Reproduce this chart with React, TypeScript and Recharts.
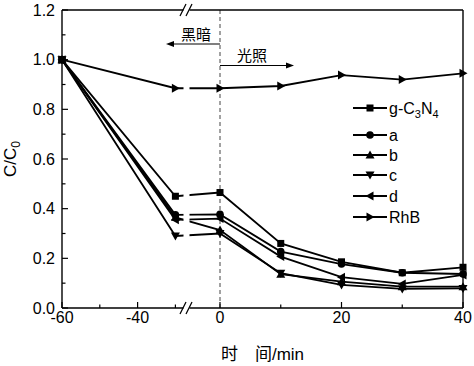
import React from 'react';
import { LineChart, Line, XAxis, YAxis, ReferenceLine } from 'recharts';

// time (min) and C/C0
const times = [-60, -30, 0, 10, 20, 30, 40];
const gC3N4 = [1.0, 0.45, 0.465, 0.26, 0.186, 0.142, 0.164];
const sampleA = [1.0, 0.375, 0.377, 0.227, 0.177, 0.142, 0.137];
const sampleB = [1.0, 0.365, 0.314, 0.136, 0.106, 0.086, 0.086];
const sampleC = [1.0, 0.29, 0.3, 0.14, 0.093, 0.077, 0.079];
const sampleD = [1.0, 0.355, 0.36, 0.207, 0.124, 0.097, 0.133];
const rhb = [1.0, 0.885, 0.885, 0.894, 0.938, 0.92, 0.945];

const seriesKeys = ['g', 'a', 'b', 'c', 'd', 'rhb'];
const seriesNames = ['g-C3N4', 'a', 'b', 'c', 'd', 'RhB'];
const seriesShapes = ['square', 'circle', 'up', 'down', 'left', 'right'];

const xMajor = [-60, -40, 0, 20, 40];
const xMinor = [-50, -30, 10, 30];
const yMajor = [0, 0.2, 0.4, 0.6, 0.8, 1.0, 1.2];
const yMinor = [0.1, 0.3, 0.5, 0.7, 0.9, 1.1];

const FONT = 'Arial, "Liberation Sans", sans-serif';
const CJK = '"Noto Sans CJK SC", sans-serif';

// broken time axis: -60..-30 compressed, 0..40 stretched
const LEFT_K = 3.78;
const RIGHT_K = 6.075;
const RIGHT_0 = 158;
const pos = (t: number) => (t <= -30 ? (t + 60) * LEFT_K : RIGHT_0 + t * RIGHT_K);
const unpos = (u: number) => Math.round(u <= 30 * LEFT_K + 1 ? u / LEFT_K - 60 : (u - RIGHT_0) / RIGHT_K);

const data = times.map((t, i) => ({
  x: pos(t),
  g: gC3N4[i],
  a: sampleA[i],
  b: sampleB[i],
  c: sampleC[i],
  d: sampleD[i],
  rhb: rhb[i],
}));

const xTicks = [...xMajor, ...xMinor].sort((p, q) => p - q).map(pos);
const yTicks = [...yMajor, ...yMinor].sort((p, q) => p - q);

function Marker({ cx, cy, shape }: { cx: number; cy: number; shape: string }) {
  if (cx == null || cy == null) return null;
  const s = 4.5;
  switch (shape) {
    case 'square':
      return <rect x={cx - 3.5} y={cy - 3.5} width={7} height={7} fill="#000" />;
    case 'circle':
      return <circle cx={cx} cy={cy} r={3.8} fill="#000" />;
    case 'up':
      return <polygon points={`${cx},${cy - s} ${cx - s},${cy + 3.5} ${cx + s},${cy + 3.5}`} fill="#000" />;
    case 'down':
      return <polygon points={`${cx},${cy + s} ${cx - s},${cy - 3.5} ${cx + s},${cy - 3.5}`} fill="#000" />;
    case 'left':
      return <polygon points={`${cx - s},${cy} ${cx + 3.5},${cy - s} ${cx + 3.5},${cy + s}`} fill="#000" />;
    default:
      return <polygon points={`${cx + s},${cy} ${cx - 3.5},${cy - s} ${cx - 3.5},${cy + s}`} fill="#000" />;
  }
}

function XTick(props: any) {
  const { x, y, payload } = props;
  const t = unpos(payload.value);
  const major = xMajor.includes(t);
  return (
    <g>
      <line x1={x} x2={x} y1={y} y2={y - (major ? 6 : 3.5)} stroke="#000" strokeWidth={1.2} />
      {major && (
        <text x={x} y={y + 15} textAnchor="middle" fontSize={16} fontFamily={FONT} fill="#000">
          {t}
        </text>
      )}
    </g>
  );
}

function YTick(props: any) {
  const { x, y, payload } = props;
  const v = payload.value;
  const major = yMajor.some((m) => Math.abs(m - v) < 1e-6);
  return (
    <g>
      <line x1={x} x2={x + (major ? 6 : 3.5)} y1={y} y2={y} stroke="#000" strokeWidth={1.2} />
      {major && (
        <text x={x - 7} y={y + 5.5} textAnchor="end" fontSize={16} fontFamily={FONT} fill="#000">
          {v.toFixed(1)}
        </text>
      )}
    </g>
  );
}

function LegendBox() {
  const rows = [11, 38, 58, 78, 99, 120];
  return (
    <g transform="translate(350 97)">
      {seriesShapes.map((shape, i) => (
        <g key={i}>
          <line x1={3} x2={37} y1={rows[i]} y2={rows[i]} stroke="#000" strokeWidth={1.8} />
          <Marker cx={20} cy={rows[i]} shape={shape} />
          <text x={39} y={rows[i] + 6} fontSize={16} fontFamily={FONT} fill="#000">
            {i === 0 ? (
              <>
                g-C<tspan dy={4} fontSize={11}>3</tspan>
                <tspan dy={-4}>N</tspan>
                <tspan dy={4} fontSize={11}>4</tspan>
              </>
            ) : (
              seriesNames[i]
            )}
          </text>
        </g>
      ))}
    </g>
  );
}

const L = 62;
const R = 463;
const T = 10;
const B = 308;

export default function App() {
  return (
    <div style={{ position: 'absolute', left: 0, top: 0, width: 474, height: 366, background: '#fff' }}>
      <LineChart width={474} height={366} data={data} margin={{ top: T, right: 474 - R, bottom: 0, left: 0 }}>
        <XAxis
          dataKey="x"
          type="number"
          domain={[0, R - L]}
          ticks={xTicks}
          interval={0}
          tickSize={0}
          tickMargin={0}
          tick={<XTick />}
          height={366 - B}
          axisLine={{ stroke: '#000', strokeWidth: 1.4 }}
          label={{ value: '时\u3000间/min', position: 'insideBottom', offset: 6, fontSize: 17, fill: '#000', fontFamily: `Arial, ${CJK}` }}
        />
        <YAxis
          type="number"
          domain={[0, 1.2]}
          ticks={yTicks}
          interval={0}
          tickSize={0}
          tickMargin={0}
          tick={<YTick />}
          width={L}
          axisLine={{ stroke: '#000', strokeWidth: 1.4 }}
        />
        <ReferenceLine x={pos(0)} stroke="#444" strokeDasharray="4 3" strokeWidth={1} />
        {seriesKeys.map((k, i) => (
          <Line
            key={k}
            name={seriesNames[i]}
            dataKey={k}
            stroke="#000"
            strokeWidth={1.8}
            isAnimationActive={false}
            dot={(p: any) => <Marker key={`${k}-${p.index}`} cx={p.cx} cy={p.cy} shape={seriesShapes[i]} />}
          />
        ))}
      </LineChart>
      <svg
        width={474}
        height={366}
        style={{ position: 'absolute', left: 0, top: 0, pointerEvents: 'none' }}
      >
        {/* frame top/right */}
        <line x1={L} x2={R} y1={T} y2={T} stroke="#000" strokeWidth={1.4} />
        <line x1={R} x2={R} y1={T} y2={B} stroke="#000" strokeWidth={1.4} />
        {/* axis break */}
        <rect x={183.5} y={T - 3} width={6} height={B - T + 6} fill="#fff" />
        <line x1={180} y1={T + 6} x2={186} y2={T - 6} stroke="#000" strokeWidth={1.2} />
        <line x1={186} y1={T + 6} x2={192} y2={T - 6} stroke="#000" strokeWidth={1.2} />
        <line x1={180} y1={B + 6} x2={186} y2={B - 6} stroke="#000" strokeWidth={1.2} />
        <line x1={186} y1={B + 6} x2={192} y2={B - 6} stroke="#000" strokeWidth={1.2} />
        {/* dark / light annotations */}
        <text x={196} y={40} textAnchor="middle" fontSize={15} fontFamily={CJK} fill="#000">
          黑暗
        </text>
        <line x1={220} x2={172} y1={44} y2={44} stroke="#000" strokeWidth={1.2} />
        <polygon points="166,44 174,41 174,47" fill="#000" />
        <text x={252} y={61} textAnchor="middle" fontSize={15} fontFamily={CJK} fill="#000">
          光照
        </text>
        <line x1={220} x2={288} y1={65.5} y2={65.5} stroke="#000" strokeWidth={1.2} />
        <polygon points="294,65.5 286,62.5 286,68.5" fill="#000" />
        <LegendBox />
        {/* y title */}
        <text
          x={16}
          y={159}
          transform="rotate(-90 16 159)"
          textAnchor="middle"
          fontSize={17}
          fontFamily={FONT}
          fill="#000"
        >
          C/C<tspan dy={4} fontSize={12}>0</tspan>
        </text>
      </svg>
    </div>
  );
}
